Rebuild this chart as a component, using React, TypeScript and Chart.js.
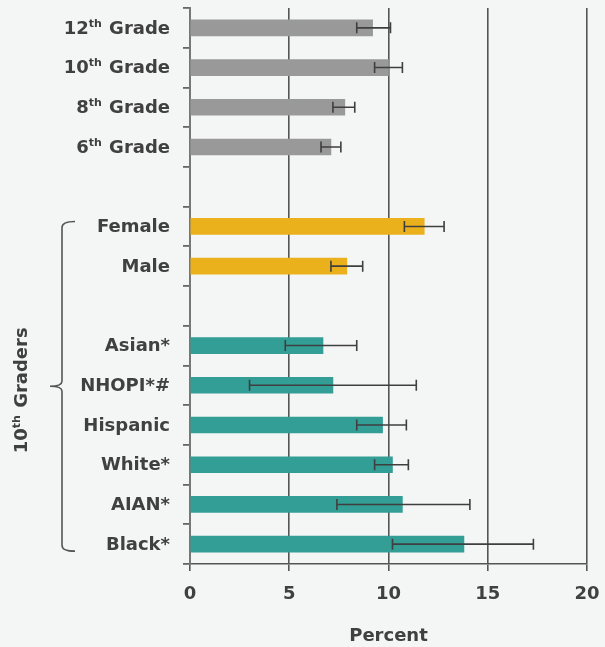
import React, { useEffect, useRef } from "react";
import { Chart, registerables } from "chart.js";

Chart.register(...registerables);

const categories = [
  "12th Grade",
  "10th Grade",
  "8th Grade",
  "6th Grade",
  "",
  "Female",
  "Male",
  "",
  "Asian*",
  "NHOPI*#",
  "Hispanic",
  "White*",
  "AIAN*",
  "Black*",
];
const values = [9.2, 10.0, 7.8, 7.1, null, 11.8, 7.9, null, 6.7, 7.2, 9.7, 10.2, 10.7, 13.8];
const lowerCI = [8.4, 9.3, 7.2, 6.6, null, 10.8, 7.1, null, 4.8, 3.0, 8.4, 9.3, 7.4, 10.2];
const upperCI = [10.1, 10.7, 8.3, 7.6, null, 12.8, 8.7, null, 8.4, 11.4, 10.9, 11.0, 14.1, 17.3];
const groups = ["grade", "grade", "grade", "grade", "", "sex", "sex", "", "race", "race", "race", "race", "race", "race"];
const xTicks = [0, 5, 10, 15, 20];
const xTitle = "Percent";
const braceLabel = "10th Graders";

const GROUP_COLORS: Record<string, string> = {
  grade: "#999999",
  sex: "#EBB11D",
  race: "#339E96",
  "": "rgba(0,0,0,0)",
};

const FONT = "'DejaVu Sans', sans-serif";
const TEXT = "#404040";

function drawSupLabel(ctx: CanvasRenderingContext2D, text: string, x: number, y: number, align: "right" | "center") {
  const m = text.match(/^(\d+)(th)(.*)$/);
  const main = `bold 18px ${FONT}`;
  const sup = `bold 11px ${FONT}`;
  ctx.save();
  ctx.fillStyle = TEXT;
  ctx.textBaseline = "middle";
  ctx.textAlign = "left";
  if (!m) {
    ctx.font = main;
    const w = ctx.measureText(text).width;
    const sx = align === "right" ? x - w : x - w / 2;
    ctx.fillText(text, sx, y);
    ctx.restore();
    return;
  }
  ctx.font = main;
  const w1 = ctx.measureText(m[1]).width;
  const w3 = ctx.measureText(m[3]).width;
  ctx.font = sup;
  const w2 = ctx.measureText(m[2]).width + 1;
  const total = w1 + w2 + w3;
  let sx = align === "right" ? x - total : x - total / 2;
  ctx.font = main;
  ctx.fillText(m[1], sx, y);
  sx += w1;
  ctx.font = sup;
  ctx.fillText(m[2], sx, y - 5);
  sx += w2;
  ctx.font = main;
  ctx.fillText(m[3], sx, y);
  ctx.restore();
}

const customPlugin = {
  id: "custom",
  beforeDraw(chart: any) {
    const ctx = chart.ctx;
    ctx.save();
    ctx.fillStyle = "#F4F6F5";
    ctx.fillRect(0, 0, chart.width, chart.height);
    ctx.restore();
  },
  afterDatasetsDraw(chart: any) {
    const ctx = chart.ctx;
    const xs = chart.scales.x;
    const ys = chart.scales.y;
    ctx.save();
    ctx.strokeStyle = "#3f3f3f";
    ctx.lineWidth = 1.6;
    for (let i = 0; i < categories.length; i++) {
      const lo = lowerCI[i];
      const hi = upperCI[i];
      if (lo == null || hi == null) continue;
      const y = ys.getPixelForValue(i);
      const x1 = xs.getPixelForValue(lo);
      const x2 = xs.getPixelForValue(hi);
      ctx.beginPath();
      ctx.moveTo(x1, y);
      ctx.lineTo(x2, y);
      ctx.moveTo(x1, y - 5.5);
      ctx.lineTo(x1, y + 5.5);
      ctx.moveTo(x2, y - 5.5);
      ctx.lineTo(x2, y + 5.5);
      ctx.stroke();
    }
    ctx.restore();
  },
  afterDraw(chart: any) {
    const ctx = chart.ctx;
    const ys = chart.scales.y;
    // category labels
    for (let i = 0; i < categories.length; i++) {
      if (!categories[i]) continue;
      drawSupLabel(ctx, categories[i], 170, ys.getPixelForValue(i) + 1, "right");
    }
    // brace around 10th grader groups
    const first = groups.indexOf("sex");
    const last = groups.lastIndexOf("race");
    const top = ys.getPixelForValue(first) - 5;
    const bot = ys.getPixelForValue(last) + 7;
    const mid = (top + bot) / 2;
    const bx = 62;
    ctx.save();
    ctx.strokeStyle = "#555555";
    ctx.lineWidth = 1.6;
    ctx.beginPath();
    ctx.moveTo(75, top);
    ctx.quadraticCurveTo(bx, top, bx, top + 6);
    ctx.lineTo(bx, mid - 5);
    ctx.quadraticCurveTo(bx, mid, 50, mid);
    ctx.quadraticCurveTo(bx, mid, bx, mid + 5);
    ctx.lineTo(bx, bot - 6);
    ctx.quadraticCurveTo(bx, bot, 75, bot);
    ctx.stroke();
    ctx.restore();
    // rotated group label
    ctx.save();
    ctx.translate(22, mid + 4);
    ctx.rotate(-Math.PI / 2);
    drawSupLabel(ctx, braceLabel, 0, 0, "center");
    ctx.restore();
  },
};

export default function App() {
  const ref = useRef<HTMLCanvasElement | null>(null);
  useEffect(() => {
    document.body.style.margin = "0";
    const canvas = ref.current;
    if (!canvas) return;
    const chart = new Chart(canvas, {
      type: "bar",
      data: {
        labels: categories,
        datasets: [
          {
            data: values as any,
            backgroundColor: groups.map((g) => GROUP_COLORS[g]),
            barThickness: 16,
          },
        ],
      },
      options: {
        indexAxis: "y",
        responsive: false,
        animation: false,
        devicePixelRatio: 1,
        layout: { padding: { top: 8, right: 18, bottom: 0, left: 0 } },
        plugins: {
          legend: { display: false },
          tooltip: { enabled: false },
        },
        scales: {
          x: {
            min: 0,
            max: 20,
            afterBuildTicks: (scale: any) => {
              scale.ticks = xTicks.map((v) => ({ value: v }));
            },
            afterFit: (scale: any) => {
              scale.height = 83;
              scale.paddingRight = 0;
              scale.paddingLeft = 0;
            },
            ticks: {
              color: TEXT,
              font: { family: FONT, size: 18, weight: "bold" },
              padding: 13,
            },
            grid: {
              color: "#555555",
              lineWidth: 1.6,
              drawTicks: true,
              tickLength: 7,
            },
            border: { display: true, color: "#555555", width: 1.6 },
            title: {
              display: true,
              text: xTitle,
              color: TEXT,
              font: { family: FONT, size: 18, weight: "bold" },
              padding: { top: 4, bottom: 0 },
            },
          },
          y: {
            ticks: { display: false, autoSkip: false },
            afterFit: (scale: any) => {
              scale.width = 190;
            },
            grid: {
              offset: true,
              drawOnChartArea: false,
              drawTicks: true,
              tickLength: 7,
              color: "#666666",
              lineWidth: 1.8,
            },
            border: { display: true, color: "#777777", width: 2 },
          },
        },
      },
      plugins: [customPlugin],
    });
    return () => chart.destroy();
  }, []);
  return (
    <div style={{ position: "fixed", left: 0, top: 0, width: 605, height: 647 }}>
      <canvas ref={ref} width={605} height={647} style={{ width: 605, height: 647, display: "block" }} />
    </div>
  );
}
